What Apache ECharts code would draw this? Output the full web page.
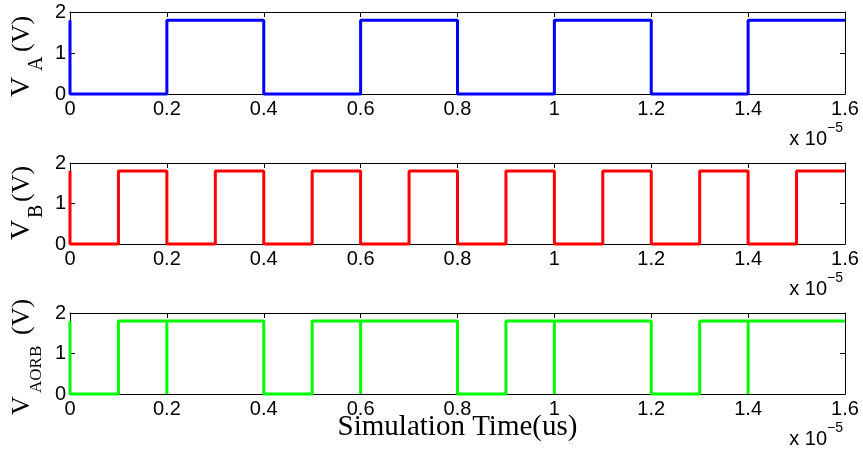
<!DOCTYPE html>
<html>
<head>
<meta charset="utf-8">
<script src="https://cdn.jsdelivr.net/npm/echarts@6/dist/echarts.min.js"></script>
<style>html,body{margin:0;padding:0;background:#fff;}#c{width:863px;height:452px;}</style>
</head>
<body>
<div id="c"></div>
<script>
// time in units of 1e-5 s
var xTicks = [0, 0.2, 0.4, 0.6, 0.8, 1, 1.2, 1.4, 1.6];
var yTicks = [0, 1, 2];

var vaTime = [0, 0, 0.2, 0.2, 0.4, 0.4, 0.6, 0.6, 0.8, 0.8, 1.0, 1.0, 1.2, 1.2, 1.4, 1.4, 1.6];
var vaVolt = [1.8, 0, 0, 1.8, 1.8, 0, 0, 1.8, 1.8, 0, 0, 1.8, 1.8, 0, 0, 1.8, 1.8];

var vbTime = [0, 0, 0.1, 0.1, 0.2, 0.2, 0.3, 0.3, 0.4, 0.4, 0.5, 0.5, 0.6, 0.6, 0.7, 0.7, 0.8, 0.8,
              0.9, 0.9, 1.0, 1.0, 1.1, 1.1, 1.2, 1.2, 1.3, 1.3, 1.4, 1.4, 1.5, 1.5, 1.6];
var vbVolt = [1.8, 0, 0, 1.8, 1.8, 0, 0, 1.8, 1.8, 0, 0, 1.8, 1.8, 0, 0, 1.8, 1.8, 0,
              0, 1.8, 1.8, 0, 0, 1.8, 1.8, 0, 0, 1.8, 1.8, 0, 0, 1.8, 1.8];

var vorTime = [0, 0, 0.1, 0.1, 0.2, 0.2, 0.2, 0.4, 0.4, 0.5, 0.5, 0.6, 0.6, 0.6, 0.8, 0.8, 0.9, 0.9,
               1.0, 1.0, 1.0, 1.2, 1.2, 1.3, 1.3, 1.4, 1.4, 1.4, 1.6];
var vorVolt = [1.8, 0, 0, 1.8, 1.8, 0, 1.8, 1.8, 0, 0, 1.8, 1.8, 0, 1.8, 1.8, 0, 0, 1.8,
               1.8, 0, 1.8, 1.8, 0, 0, 1.8, 1.8, 0, 1.8, 1.8];

var seriesColors = ['#0000ff', '#ff0000', '#00ff00'];
var xLabelText = 'Simulation Time(us)';
var expBase = 'x 10';
var expPower = '\u22125';

function pairs(t, v) { return t.map(function (x, i) { return [x, v[i]]; }); }
var seriesData = [pairs(vaTime, vaVolt), pairs(vbTime, vbVolt), pairs(vorTime, vorVolt)];

var gridTops = [12, 163, 313];
var gridH = [82, 81, 81];
var L = 70, W = 775;
var sans = 'Liberation Sans, Arial, Helvetica, sans-serif';
var serif = 'Liberation Serif, Times New Roman, serif';

var grids = [], xAxes = [], yAxes = [], series = [];
function fmt(v) { return String(Math.round(v * 10) / 10); }
for (var i = 0; i < 3; i++) {
  grids.push({ left: L, top: gridTops[i], width: W, height: gridH[i], containLabel: false });
  var line = { show: true, onZero: false, lineStyle: { color: '#000', width: 1 } };
  var tick = { show: true, inside: true, length: 5, lineStyle: { color: '#000', width: 1 } };
  xAxes.push({ type: 'value', gridIndex: i, position: 'bottom', min: 0, max: 1.6, interval: 0.2,
    axisLine: line, axisTick: tick, splitLine: { show: false },
    axisLabel: { show: true, margin: 5, color: '#000', fontSize: 20, fontFamily: sans, formatter: fmt } });
  xAxes.push({ type: 'value', gridIndex: i, position: 'top', min: 0, max: 1.6, interval: 0.2,
    axisLine: line, axisTick: tick, splitLine: { show: false }, axisLabel: { show: false } });
  yAxes.push({ type: 'value', gridIndex: i, position: 'left', min: 0, max: 2, interval: 1,
    axisLine: line, axisTick: tick, splitLine: { show: false },
    axisLabel: { show: true, margin: 4, color: '#000', fontSize: 20, fontFamily: sans, formatter: fmt } });
  yAxes.push({ type: 'value', gridIndex: i, position: 'right', min: 0, max: 2, interval: 1,
    axisLine: line, axisTick: tick, splitLine: { show: false }, axisLabel: { show: false } });
  series.push({ type: 'line', xAxisIndex: 2 * i, yAxisIndex: 2 * i, data: seriesData[i],
    showSymbol: false, symbol: 'none', clip: false, animation: false,
    lineStyle: { color: seriesColors[i], width: 3 }, z: 1 });
}

// label pieces rotated to read bottom-to-top
function txt(t, x, y, size) {
  return { type: 'text', x: x, y: y,
    style: { text: t, fill: '#000', font: size + 'px ' + serif, align: 'left', verticalAlign: 'middle' } };
}
function ylabel(ox, oy, parts) {
  return { type: 'group', x: ox, y: oy, rotation: Math.PI / 2, children: parts };
}
var graphics = [
  ylabel(22, 97, [txt('V', 0, 0, 28), txt('A', 26, 15, 20), txt('(V)', 45, 0, 26)]),
  ylabel(22, 240, [txt('V', 0, 0, 28), txt('B', 22, 15, 20), txt('(V)', 38, 0, 26)]),
  ylabel(22, 415, [txt('V', 0, 0, 26), txt('AORB', 22, 15, 17), txt('(V)', 80, 0, 26)]),
  { type: 'text', x: 457.5, y: 427, style: { text: xLabelText, fill: '#000', font: '29px ' + serif, align: 'center', verticalAlign: 'middle' } }
];
for (var k = 0; k < 3; k++) {
  var cy = 139 + k * 150;
  graphics.push({ type: 'text', x: 827, y: cy, style: { text: expBase, fill: '#000', font: '20px ' + sans, align: 'right', verticalAlign: 'middle' } });
  graphics.push({ type: 'text', x: 827, y: cy - 11, style: { text: expPower, fill: '#000', font: '14px ' + sans, align: 'left', verticalAlign: 'middle' } });
}

var chart = echarts.init(document.getElementById('c'), null, { renderer: 'canvas' });
chart.setOption({
  animation: false,
  backgroundColor: '#fff',
  grid: grids, xAxis: xAxes, yAxis: yAxes, series: series, graphic: graphics
});
</script>
</body>
</html>
